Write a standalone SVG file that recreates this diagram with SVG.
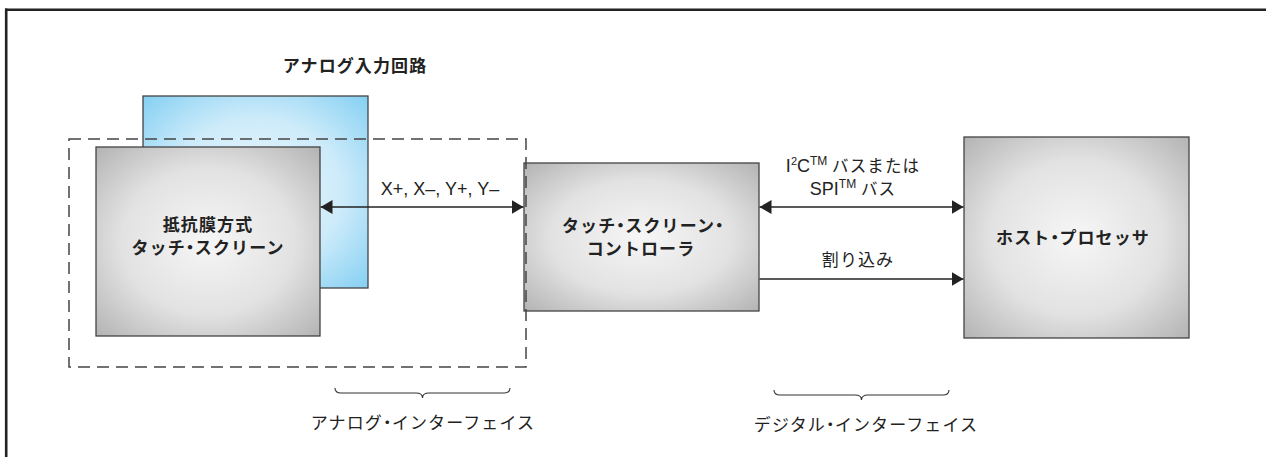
<svg xmlns="http://www.w3.org/2000/svg" width="1266" height="457" viewBox="0 0 1266 457">
<defs>
<radialGradient id="gray" cx="50%" cy="50%" r="70%">
<stop offset="0" stop-color="#f6f6f6"/>
<stop offset="0.55" stop-color="#e2e2e2"/>
<stop offset="1" stop-color="#b4b4b4"/>
</radialGradient>
<radialGradient id="blue" cx="50%" cy="50%" r="70%">
<stop offset="0" stop-color="#eef8fd"/>
<stop offset="0.55" stop-color="#cdebfa"/>
<stop offset="1" stop-color="#86d0f3"/>
</radialGradient>
<marker id="ah" viewBox="0 0 12 14" refX="12" refY="7" markerWidth="12" markerHeight="14" markerUnits="userSpaceOnUse" orient="auto-start-reverse">
<path d="M0,0 L12,7 L0,14 Z" fill="#222"/>
</marker>
<style>
.box{stroke:#444;stroke-width:1.3}
.jp{font-family:"Noto Sans CJK JP","Noto Sans",sans-serif;font-size:17px;fill:#222;letter-spacing:1.1px}
.b{font-weight:700}
.dot{font-feature-settings:"palt";letter-spacing:0.5px}
.lat{font-family:"Liberation Sans",Arial,sans-serif;font-size:18px;fill:#222}
.bus{font-size:16.5px}
.sup2{font-size:11px}
.sup{font-size:12px}
.conn{stroke:#222;stroke-width:1.4;fill:none}
.brace{stroke:#333;stroke-width:1.1;fill:none}
</style>
</defs>
<rect width="1266" height="457" fill="#fff"/>
<g id="frame">
<line x1="5" y1="9.7" x2="1266" y2="9.7" stroke="#222" stroke-width="2.6"/>
<line x1="6.2" y1="8.5" x2="6.2" y2="457" stroke="#222" stroke-width="2.6"/>
</g>
<g id="title">
<text class="jp b" x="355" y="72" text-anchor="middle">アナログ入力回路</text>
</g>
<g id="analog-circuit">
<rect class="box" x="143" y="96" width="225" height="192" fill="url(#blue)"/>
</g>
<g id="touch-screen">
<rect class="box" x="96" y="147" width="224" height="189" fill="url(#gray)"/>
<text class="jp b" x="208" y="231" text-anchor="middle">抵抗膜方式</text>
<text class="jp b" x="208" y="254" text-anchor="middle">タッチ<tspan class="dot">・</tspan>スクリーン</text>
</g>
<g id="controller">
<rect class="box" x="524" y="163" width="235" height="148" fill="url(#gray)"/>
<text class="jp b" x="643" y="232" text-anchor="middle">タッチ<tspan class="dot">・</tspan>スクリーン<tspan class="dot">・</tspan></text>
<text class="jp b" x="641" y="255" text-anchor="middle">コントローラ</text>
</g>
<g id="host">
<rect class="box" x="964" y="137" width="225" height="201" fill="url(#gray)"/>
<text class="jp b" x="1073" y="244" text-anchor="middle">ホスト<tspan class="dot">・</tspan>プロセッサ</text>
</g>
<g id="analog-boundary">
<rect x="69" y="139" width="457" height="228" fill="none" stroke="#444" stroke-width="1.5" stroke-dasharray="12 7"/>
</g>
<g id="connectors">
<line class="conn" x1="320.5" y1="207" x2="523.5" y2="207" marker-start="url(#ah)" marker-end="url(#ah)"/>
<line class="conn" x1="759.5" y1="207" x2="963.5" y2="207" marker-start="url(#ah)" marker-end="url(#ah)"/>
<line class="conn" x1="759.5" y1="279" x2="963.5" y2="279" marker-end="url(#ah)"/>
</g>
<g id="labels">
<text class="lat" x="440" y="195" text-anchor="middle">X+, X–, Y+, Y–</text>
<text class="lat" x="853" y="172" text-anchor="middle">I<tspan class="sup2" dy="-7">2</tspan><tspan dy="7">C</tspan><tspan class="sup" dy="-7">TM</tspan><tspan class="jp bus" dy="7"> バスまたは</tspan></text>
<text class="lat" x="853" y="195" text-anchor="middle">SPI<tspan class="sup" dy="-7">TM</tspan><tspan class="jp bus" dy="7"> バス</tspan></text>
<text class="jp" x="858" y="266" text-anchor="middle">割り込み</text>
</g>
<g id="braces">
<path class="brace" d="M335,388 Q335,393 341,393 L416,393 Q422.5,393 422.5,398 Q422.5,393 429,393 L504,393 Q510,393 510,388"/>
<path class="brace" d="M774,390 Q774,395 780,395 L855,395 Q861.5,395 861.5,400 Q861.5,395 868,395 L943,395 Q949,395 949,390"/>
<text class="jp" x="423" y="429" text-anchor="middle">アナログ<tspan class="dot">・</tspan>インターフェイス</text>
<text class="jp" x="866" y="431" text-anchor="middle">デジタル<tspan class="dot">・</tspan>インターフェイス</text>
</g>
</svg>
